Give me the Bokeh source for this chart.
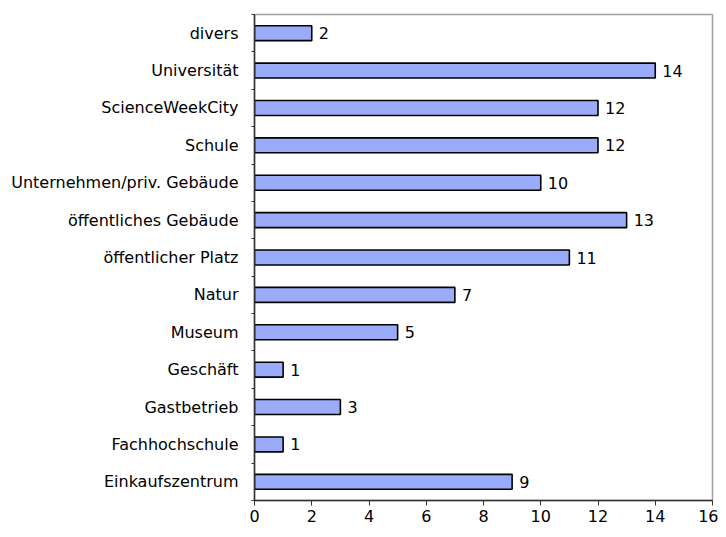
from bokeh.plotting import figure
from bokeh.models import ColumnDataSource, FixedTicker, Range1d
from bokeh.core.properties import value
from bokeh.embed import file_html
from bokeh.resources import INLINE

categories = ["Einkaufszentrum", "Fachhochschule", "Gastbetrieb", "Geschäft", "Museum",
              "Natur", "öffentlicher Platz", "öffentliches Gebäude",
              "Unternehmen/priv. Gebäude", "Schule", "ScienceWeekCity", "Universität", "divers"]
counts = [9, 1, 3, 1, 5, 7, 11, 13, 10, 12, 12, 14, 2]
x_ticks = [0, 2, 4, 6, 8, 10, 12, 14, 16]

FONT = "DejaVu Sans"
ypos = [i + 0.5 for i in range(len(categories))]
src = ColumnDataSource(dict(y=ypos, v=counts, lab=[str(c) for c in counts]))

p = figure(width=718, height=529, output_backend="svg", toolbar_location=None,
           x_range=Range1d(0, 16), y_range=Range1d(0, len(categories)),
           min_border_left=254, min_border_right=6, min_border_top=14, min_border_bottom=29)
p.background_fill_color = "white"
p.border_fill_color = "white"
p.outline_line_color = "#a0a0a0"
p.outline_line_width = 1.5
p.grid.visible = False

p.hbar(y="y", left=0, right="v", height=0.40, source=src,
       fill_color="#9aabf9", line_color="black", line_width=1.6)
p.text(x="v", y="y", text="lab", source=src, x_offset=7, text_baseline="middle",
       text_align="left", text_font=value(FONT), text_font_size="16px", text_color="black")

xa = p.xaxis[0]
xa.ticker = FixedTicker(ticks=x_ticks)
xa.axis_line_color = "#333333"
xa.axis_line_width = 1.5
xa.major_tick_line_color = "#333333"
xa.major_tick_in = 0
xa.major_tick_out = 5
xa.minor_tick_line_color = None
xa.major_label_standoff = 4
xa.major_label_text_font = FONT
xa.major_label_text_font_size = "16px"
xa.major_label_text_color = "black"

ya = p.yaxis[0]
ya.ticker = FixedTicker(ticks=ypos, minor_ticks=list(range(len(categories) + 1)))
ya.major_label_overrides = {y: c for y, c in zip(ypos, categories)}
ya.axis_line_color = "#333333"
ya.axis_line_width = 1.5
ya.major_tick_line_color = None
ya.minor_tick_line_color = "#333333"
ya.minor_tick_in = 0
ya.minor_tick_out = 3
ya.major_label_standoff = 10
ya.major_label_text_font = FONT
ya.major_label_text_font_size = "16px"
ya.major_label_text_color = "black"

open("out.html", "w").write(file_html(p, INLINE))
